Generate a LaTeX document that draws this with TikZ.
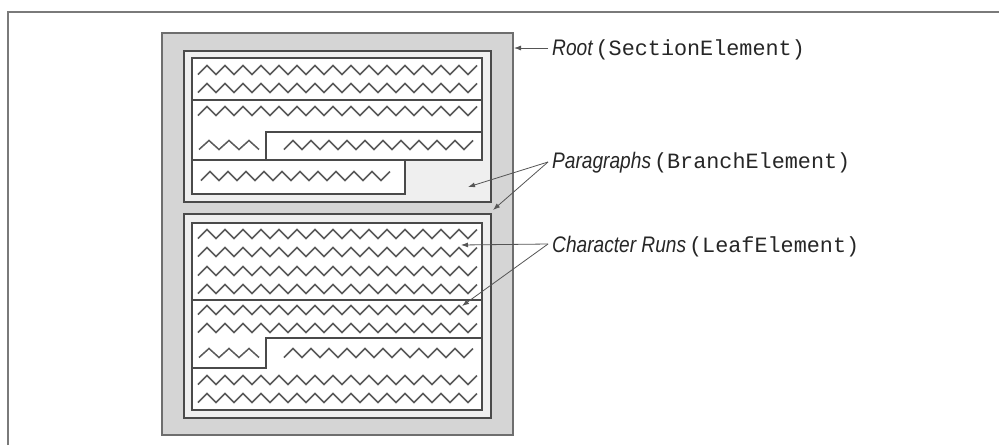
\documentclass[tikz,border=0pt]{standalone}
\usepackage{fontspec}
\newfontfamily\labfont{Liberation Sans}[FakeStretch=0.85]
\newfontfamily\codefont{Liberation Mono}
\usetikzlibrary{arrows.meta}
\definecolor{framegray}{HTML}{7A7A7A}
\definecolor{rootfill}{HTML}{D5D5D5}
\definecolor{parafill}{HTML}{EFEFEF}
\definecolor{edgedark}{HTML}{4A4A4A}
\definecolor{zigcol}{HTML}{5A5A5A}
\definecolor{arrcol}{HTML}{555555}
\newcommand{\zigrow}[4]{%
  \draw[zig] (#1,#2+4.5) \foreach \i in {1,...,#3}{ -- ({#1+\i*#4},{#2+4.5-9*mod(\i,2)}) };}
\newcommand{\itlab}[1]{{\labfont\itshape\fontsize{22.5}{26}\selectfont #1}}
\newcommand{\codelab}[1]{{\codefont\fontsize{21.8}{26}\selectfont #1}}
\tikzset{
  framel/.style={draw=framegray, line width=2pt},
  rootbox/.style={draw=edgedark!80, fill=rootfill, line width=2pt},
  parabox/.style={draw=edgedark, fill=parafill, line width=2pt},
  runbox/.style={draw=edgedark, fill=white, line width=1.4pt, line join=miter},
  zig/.style={draw=zigcol, line width=1.5pt},
  arr/.style={draw=arrcol, line width=0.8pt, -{Latex[length=7pt,width=5pt]}},
  lab/.style={inner xsep=4pt, inner ysep=0pt, anchor=base west, text=black!85},
}
\begin{document}
\begin{tikzpicture}[x=1pt,y=-1pt]
\useasboundingbox (0,0) rectangle (999,445);
% outer frame
\draw[framel] (8,445) -- (8,12) -- (999,12);
% root
\node[rootbox, minimum width=351pt, minimum height=402pt, inner sep=0pt] (root) at (337.5,234) {};
% paragraph boxes
\node[parabox, minimum width=307pt, minimum height=151pt, inner sep=0pt] (para1) at (337.5,126.5) {};
\node[parabox, minimum width=307pt, minimum height=204pt, inner sep=0pt] (para2) at (337.5,316) {};
% runs of paragraph 1
\draw[runbox] (192,58) rectangle (482,100);
\draw[runbox] (192,100) -- (482,100) -- (482,132) -- (266,132) -- (266,160) -- (192,160) -- cycle;
\draw[runbox] (266,132) rectangle (482,160);
\draw[runbox] (192,160) rectangle (405,194);
% runs of paragraph 2
\draw[runbox] (192,223) rectangle (482,300);
\draw[runbox] (192,300) -- (482,300) -- (482,338) -- (266,338) -- (266,368) -- (192,368) -- cycle;
\draw[runbox] (266,338) -- (482,338) -- (482,410) -- (192,410) -- (192,368) -- (266,368) -- cycle;
% zigzag text lines, paragraph 1
\zigrow{198}{70}{31}{9}
\zigrow{198}{88}{31}{9}
\zigrow{198}{111}{31}{9}
\zigrow{199}{145}{6}{10}
\zigrow{284}{145}{21}{9}
\zigrow{201}{176}{21}{9}
% zigzag text lines, paragraph 2
\zigrow{198}{234}{31}{9}
\zigrow{198}{252}{31}{9}
\zigrow{198}{271}{31}{9}
\zigrow{198}{289}{31}{9}
\zigrow{198}{310}{31}{9}
\zigrow{198}{328}{31}{9}
\zigrow{199}{353}{6}{10}
\zigrow{284}{353}{21}{9}
\zigrow{198}{380}{31}{9}
\zigrow{198}{398}{31}{9}
% labels
\node[lab] (rootlab) at (548,55) {\itlab{Root}\hspace{3pt}\codelab{(SectionElement)}};
\node[lab] (paralab) at (548,168) {\itlab{Paragraphs}\hspace{3pt}\codelab{(BranchElement)}};
\node[lab] (runlab) at (548,252) {\itlab{Character Runs}\hspace{3pt}\codelab{(LeafElement)}};
% arrow targets
\coordinate (pa1) at (468,187);
\coordinate (pa2) at (493,210);
\coordinate (ra1) at (461,245);
\coordinate (ra2) at (462,306);
\coordinate (rootsrc) at (548,48);
\coordinate (parasrc) at (548,162);
\coordinate (runsrc) at (548,244);
% connectors
\draw[arr] (rootsrc) -- (rootsrc -| root.east);
\draw[arr] (parasrc) -- (pa1);
\draw[arr] (parasrc) -- (pa2);
\draw[arr] (runsrc) -- (ra1);
\draw[arr] (runsrc) -- (ra2);
\end{tikzpicture}
\end{document}
